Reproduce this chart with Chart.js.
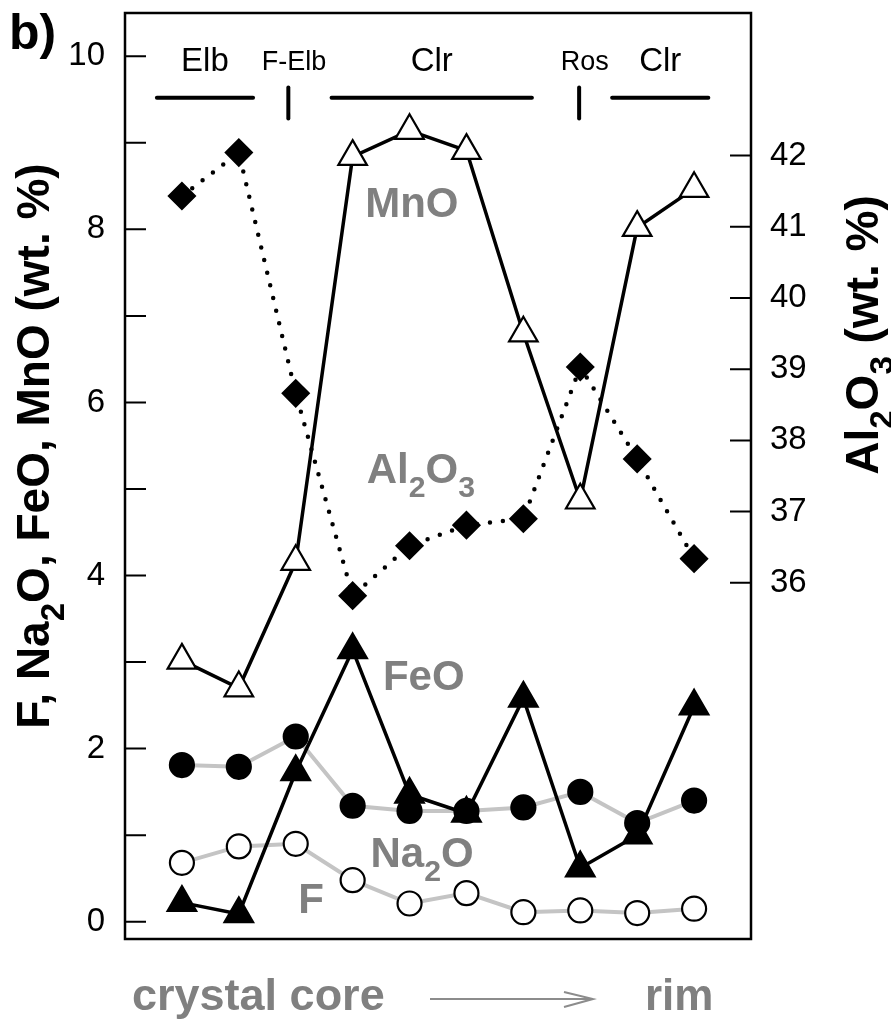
<!DOCTYPE html>
<html>
<head>
<meta charset="utf-8">
<title>Crystal core to rim profile</title>
<script src="https://cdn.jsdelivr.net/npm/chart.js@4.4.0/dist/chart.umd.min.js"></script>
<style>
  html, body { margin: 0; padding: 0; background: #fff; }
  canvas { display: block; }
</style>
</head>
<body>
<canvas id="profileChart" width="891" height="1020"></canvas>
<script>
// analysis spots from crystal core (1) to rim (10)
const positions = [1, 2, 3, 4, 5, 6, 7, 8, 9, 10];
const mnO   = [3.02, 2.70, 4.16, 8.84, 9.14, 8.91, 6.80, 4.87, 8.02, 8.47];
const al2o3 = [41.43, 42.04, 38.66, 35.82, 36.52, 36.81, 36.90, 39.03, 37.74, 36.34];
const feO   = [0.22, 0.09, 1.73, 3.14, 1.47, 1.25, 2.58, 0.62, 1.00, 2.49];
const na2O  = [1.81, 1.79, 2.14, 1.34, 1.28, 1.28, 1.32, 1.50, 1.14, 1.40];
const fluor = [0.68, 0.87, 0.90, 0.48, 0.21, 0.33, 0.11, 0.13, 0.10, 0.15];

const leftTicks = [0, 1, 2, 3, 4, 5, 6, 7, 8, 9, 10];
const rightTicks = [36, 37, 38, 39, 40, 41, 42];

// tourmaline zones along the traverse (x in spot units)
const zoneBars = [[0.56, 2.25], [3.63, 7.15], [8.56, 10.25]];
const zoneBarNames = ['Elb', 'Clr', 'Clr'];
const zoneMarks = [2.87, 7.98];
const zoneMarkNames = ['F-Elb', 'Ros'];

const FAMILY = "'Liberation Sans', Arial, Helvetica, sans-serif";
const GREY_TEXT = '#808080';
const GREY_LINE = '#c4c4c4';

function points(values) {
    return positions.map((x, i) => ({ x: x, y: values[i] }));
}

function lineSet(values, axis, color, width, order, dotted) {
    return {
        data: points(values),
        yAxisID: axis,
        borderColor: color,
        borderWidth: width,
        borderDash: dotted ? [0, 13] : [],
        borderCapStyle: dotted ? 'round' : 'butt',
        pointRadius: 0,
        fill: false,
        tension: 0,
        order: order
    };
}

function markerSet(values, axis, style, fill, radius, order) {
    return {
        data: points(values),
        yAxisID: axis,
        showLine: false,
        pointStyle: style,
        pointRadius: radius,
        pointBackgroundColor: fill,
        pointBorderColor: '#000',
        pointBorderWidth: 2.2,
        order: order
    };
}

function zoneSets() {
    const sets = [];
    zoneBars.forEach(b => {
        sets.push({ data: [{ x: b[0], y: 9.52 }, { x: b[1], y: 9.52 }], yAxisID: 'y', borderColor: '#000',
            borderWidth: 4, borderCapStyle: 'round', pointRadius: 0, order: 30 });
    });
    zoneMarks.forEach(m => {
        sets.push({ data: [{ x: m, y: 9.28 }, { x: m, y: 9.64 }], yAxisID: 'y', borderColor: '#000',
            borderWidth: 4, borderCapStyle: 'round', pointRadius: 0, order: 30 });
    });
    return sets;
}

// text with optional subscripts: parts = [[text, isSub], ...]
function richText(ctx, parts, x, y, size, align) {
    const fontFor = sub => 'bold ' + (sub ? size * 0.72 : size) + 'px ' + FAMILY;
    let width = 0;
    parts.forEach(p => { ctx.font = fontFor(p[1]); width += ctx.measureText(p[0]).width; });
    let cx = align === 'center' ? x - width / 2 : x;
    ctx.textAlign = 'left';
    ctx.textBaseline = 'alphabetic';
    parts.forEach(p => {
        ctx.font = fontFor(p[1]);
        ctx.fillText(p[0], cx, y + (p[1] ? size * 0.33 : 0));
        cx += ctx.measureText(p[0]).width;
    });
}

const decor = {
    id: 'decor',
    afterDraw(chart) {
        const ctx = chart.ctx;
        const a = chart.chartArea;
        const xs = chart.scales.x;
        const yl = chart.scales.y;
        const yr = chart.scales.y2;
        ctx.save();

        ctx.strokeStyle = '#000';
        ctx.lineWidth = 2.5;
        ctx.strokeRect(a.left, a.top, a.right - a.left, a.bottom - a.top);

        // inward tick marks
        ctx.lineWidth = 2;
        ctx.beginPath();
        leftTicks.forEach(v => {
            const py = yl.getPixelForValue(v);
            ctx.moveTo(a.left, py);
            ctx.lineTo(a.left + 21, py);
        });
        rightTicks.forEach(v => {
            const py = yr.getPixelForValue(v);
            ctx.moveTo(a.right, py);
            ctx.lineTo(a.right - 21, py);
        });
        ctx.stroke();

        // zone names
        ctx.fillStyle = '#000';
        ctx.textAlign = 'center';
        ctx.textBaseline = 'alphabetic';
        ctx.font = '33px ' + FAMILY;
        zoneBars.forEach((b, i) => {
            ctx.fillText(zoneBarNames[i], xs.getPixelForValue((b[0] + b[1]) / 2), yl.getPixelForValue(9.83));
        });
        ctx.font = '27px ' + FAMILY;
        zoneMarks.forEach((m, i) => {
            ctx.fillText(zoneMarkNames[i], xs.getPixelForValue(m + 0.1), yl.getPixelForValue(9.84));
        });

        // series names inside the plot
        ctx.fillStyle = GREY_TEXT;
        const at = (x, y) => [xs.getPixelForValue(x), yl.getPixelForValue(y)];
        let p = at(5.04, 8.14);
        richText(ctx, [['MnO']], p[0], p[1], 42, 'center');
        p = at(5.2, 5.07);
        richText(ctx, [['Al'], ['2', true], ['O'], ['3', true]], p[0], p[1], 42, 'center');
        p = at(5.25, 2.68);
        richText(ctx, [['FeO']], p[0], p[1], 42, 'center');
        p = at(5.22, 0.635);
        richText(ctx, [['Na'], ['2', true], ['O']], p[0], p[1], 42, 'center');
        p = at(3.27, 0.10);
        richText(ctx, [['F']], p[0], p[1], 42, 'center');

        // axis titles
        ctx.fillStyle = '#000';
        ctx.save();
        ctx.translate(49, 446);
        ctx.rotate(-Math.PI / 2);
        richText(ctx, [['F, Na'], ['2', true], ['O, FeO, MnO (wt. %)']], 0, 0, 46, 'center');
        ctx.restore();
        ctx.save();
        ctx.translate(878, 335);
        ctx.rotate(-Math.PI / 2);
        richText(ctx, [['Al'], ['2', true], ['O'], ['3', true], [' (wt. %)']], 0, 0, 46, 'center');
        ctx.restore();

        // panel letter
        richText(ctx, [['b)']], 9, 49, 50, 'left');

        // traverse direction
        ctx.fillStyle = GREY_TEXT;
        richText(ctx, [['crystal core']], 132, 1010, 45, 'left');
        richText(ctx, [['rim']], 645, 1010, 44, 'left');
        ctx.strokeStyle = '#8c8c8c';
        ctx.lineWidth = 2;
        ctx.beginPath();
        ctx.moveTo(430, 999);
        ctx.lineTo(593, 999);
        ctx.moveTo(564, 992);
        ctx.lineTo(593, 999);
        ctx.lineTo(564, 1007);
        ctx.stroke();

        ctx.restore();
    }
};

const tickFont = { family: FAMILY, size: 33, lineHeight: 0.7 };

const chart = new Chart(document.getElementById('profileChart').getContext('2d'), {
    type: 'line',
    data: {
        datasets: [
            markerSet(na2O, 'y', 'circle', '#000', 12, 1),
            markerSet(fluor, 'y', 'circle', '#fff', 12, 2),
            markerSet(feO, 'y', 'triangle', '#000', 16.5, 3),
            markerSet(mnO, 'y', 'triangle', '#fff', 16.5, 4),
            markerSet(al2o3, 'y2', 'rectRot', '#000', 13, 5),
            lineSet(feO, 'y', '#000', 3.5, 11),
            lineSet(mnO, 'y', '#000', 3.5, 12),
            lineSet(al2o3, 'y2', '#000', 4.5, 13, true),
            lineSet(na2O, 'y', GREY_LINE, 4, 14),
            lineSet(fluor, 'y', GREY_LINE, 4, 15)
        ].concat(zoneSets())
    },
    options: {
        responsive: false,
        animation: false,
        devicePixelRatio: 1,
        layout: { autoPadding: false, padding: { top: 13, bottom: 81, left: 0, right: 0 } },
        plugins: { legend: { display: false }, tooltip: { enabled: false } },
        scales: {
            x: { type: 'linear', min: 0, max: 11, display: false },
            y: {
                position: 'left',
                min: -0.2,
                max: 10.5,
                grid: { display: false, drawTicks: false },
                border: { display: false },
                afterBuildTicks: s => { s.ticks = leftTicks.map(v => ({ value: v })); },
                afterFit: s => { s.width = 125; s.paddingTop = 0; s.paddingBottom = 0; },
                ticks: { padding: 20, color: '#000', font: tickFont, autoSkip: false,
                    callback: v => (v % 2 === 0 ? v : '') }
            },
            y2: {
                position: 'right',
                min: 31,
                max: 44,
                grid: { display: false, drawTicks: false },
                border: { display: false },
                afterBuildTicks: s => { s.ticks = rightTicks.map(v => ({ value: v })); },
                afterFit: s => { s.width = 140; s.paddingTop = 0; s.paddingBottom = 0; },
                ticks: { padding: 19, color: '#000', font: tickFont, autoSkip: false }
            }
        }
    },
    plugins: [decor]
});
</script>
</body>
</html>
